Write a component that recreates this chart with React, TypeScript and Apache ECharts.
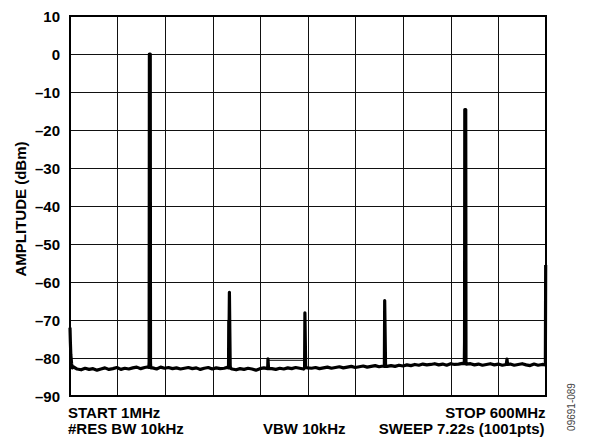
import React, { useEffect, useRef } from "react";
import * as echarts from "echarts";

// Y axis ticks (dBm)
const yTicks = [10, 0, -10, -20, -30, -40, -50, -60, -70, -80, -90];

// Start of sweep: roll-off from DC (MHz, dBm)
const startTrace: [number, number][] = [
  [1, -72], [1.5, -76], [2, -79], [3, -81.5], [4, -82.6],
];

// Noise floor samples, every 5 MHz from 5 MHz to 595 MHz (dBm)
const floorStartMHz = 5;
const floorStepMHz = 5;
const floorLevels = [
  -82.3, -82.9, -83.1, -82.7, -83.0, -82.8, -83.2, -82.9, -82.6, -83.0,
  -82.8, -82.5, -83.0, -82.7, -82.9, -82.6, -82.4, -82.8, -82.5, -82.3,
  -82.6, -82.9, -82.4, -82.7, -82.5, -82.8, -82.6, -82.9, -82.7, -82.5,
  -82.8, -82.6, -83.0, -82.7, -82.5, -82.9, -82.6, -82.8, -82.7, -82.4,
  -82.9, -83.1, -82.8, -83.0, -82.7, -82.9, -83.2, -82.8, -82.6, -82.9,
  -82.8, -83.0, -82.7, -82.9, -82.6, -82.8, -82.5, -82.7, -82.9, -82.6,
  -82.7, -82.5, -82.8, -82.6, -82.4, -82.7, -82.5, -82.3, -82.6, -82.4,
  -82.2, -82.5, -82.3, -82.1, -82.4, -82.2, -82.0, -82.3, -82.1, -82.2,
  -82.0, -82.2, -81.9, -82.1, -81.8, -82.0, -81.7, -81.9, -81.6, -81.8,
  -81.7, -81.5, -81.8, -81.6, -81.9, -81.5, -81.7, -81.6, -81.4, -81.7,
  -81.5, -81.8, -81.6, -81.9, -81.7, -81.5, -81.8, -81.6, -81.9, -81.7,
  -81.6, -81.9, -81.7, -81.5, -81.8, -82.0, -81.6, -81.9, -81.7,
];

// Tones and spurs (MHz, dBm)
const fundamental: [number, number][] = [
  [100.2, -82.5], [100.6, -81.0], [100.9, 0], [102.0, 0], [102.3, -81.3], [102.7, -82.6],
];
const harmonic2: [number, number][] = [
  [200.5, -82.6], [200.8, -70.3], [201.3, -70.0], [201.6, -62.7], [202.3, -62.7], [202.6, -82.0], [203.0, -82.7],
];
const spur250: [number, number][] = [
  [249.8, -82.8], [250.1, -80.2], [250.6, -80.2], [250.9, -82.8],
];
const harmonic3: [number, number][] = [
  [296.2, -82.6], [296.6, -68.1], [297.2, -68.1], [297.6, -82.5],
];
const harmonic4: [number, number][] = [
  [396.6, -82.2], [397.0, -64.9], [397.7, -64.9], [398.1, -82.2],
];
const harmonic5: [number, number][] = [
  [497.2, -81.5], [497.5, -75.7], [497.8, -14.6], [499.0, -14.6], [499.3, -81.4], [499.7, -81.6],
];
const spur551: [number, number][] = [
  [550.6, -81.7], [550.9, -80.3], [551.4, -80.3], [551.7, -81.7],
];
const endTrace: [number, number][] = [
  [599.2, -81.8], [599.6, -55.5], [600, -55.5],
];
// Thin delta-marker line between the 250 MHz spur and the 3rd harmonic
const markerLine: [number, number][] = [
  [250.4, -80.6], [296.9, -80.6],
];

const FONT = "'Liberation Sans', Arial, Helvetica, sans-serif";

function buildTrace(): [number, number][] {
  const pts: [number, number][] = [...startTrace];
  floorLevels.forEach((v, i) => pts.push([floorStartMHz + i * floorStepMHz, v]));
  [fundamental, harmonic2, spur250, harmonic3, harmonic4, harmonic5, spur551, endTrace].forEach((arr) =>
    arr.forEach((p) => pts.push(p))
  );
  pts.sort((a, b) => a[0] - b[0]);
  return pts;
}

export default function App() {
  const ref = useRef<HTMLDivElement>(null);
  useEffect(() => {
    if (!ref.current) return;
    const chart = echarts.init(ref.current, null, { renderer: "svg" });
    const boldText = { fontFamily: FONT, fontWeight: "bold", fontSize: 15, fill: "#000" };
    chart.setOption({
      animation: false,
      backgroundColor: "#fff",
      grid: { left: 70, top: 16, right: 51, bottom: 42, show: false },
      xAxis: [
        {
          type: "value",
          min: 0,
          max: 10,
          interval: 1,
          axisLine: { show: false },
          axisTick: { show: false },
          axisLabel: { show: false },
          splitLine: { show: true, lineStyle: { color: "#111", width: 1 } },
        },
        {
          type: "value",
          min: 1,
          max: 600,
          show: false,
          splitLine: { show: false },
        },
      ],
      yAxis: {
        type: "value",
        min: yTicks[yTicks.length - 1],
        max: yTicks[0],
        interval: 10,
        axisLine: { show: false },
        axisTick: { show: false },
        axisLabel: {
          margin: 10,
          color: "#000",
          fontFamily: FONT,
          fontWeight: "bold",
          fontSize: 15,
          formatter: (v: number) => String(v).replace("-", "\u2013"),
        },
        splitLine: { show: true, lineStyle: { color: "#111", width: 1 } },
      },
      series: [
        {
          type: "line",
          xAxisIndex: 1,
          data: buildTrace(),
          showSymbol: false,
          symbol: "none",
          lineStyle: { color: "#000", width: 3.2, join: "round" },
          silent: true,
        },
        {
          type: "line",
          xAxisIndex: 1,
          data: markerLine,
          showSymbol: false,
          symbol: "none",
          lineStyle: { color: "#000", width: 1 },
          silent: true,
        },
      ],
      graphic: [
        {
          type: "rect",
          shape: { x: 70, y: 16, width: 476, height: 380 },
          style: { fill: "none", stroke: "#000", lineWidth: 2 },
          silent: true,
          z: 10,
        },
        {
          type: "text",
          x: 20,
          y: 209,
          rotation: Math.PI / 2,
          style: { ...boldText, text: "AMPLITUDE (dBm)", align: "center", verticalAlign: "middle" },
        },
        {
          type: "text",
          x: 68,
          y: 412,
          style: { ...boldText, text: "START 1MHz", align: "left", verticalAlign: "middle" },
        },
        {
          type: "text",
          x: 68,
          y: 428.5,
          style: { ...boldText, text: "#RES BW 10kHz", align: "left", verticalAlign: "middle" },
        },
        {
          type: "text",
          x: 263,
          y: 428.5,
          style: { ...boldText, text: "VBW 10kHz", align: "left", verticalAlign: "middle" },
        },
        {
          type: "text",
          x: 545.5,
          y: 412,
          style: { ...boldText, text: "STOP 600MHz", align: "right", verticalAlign: "middle" },
        },
        {
          type: "text",
          x: 544.5,
          y: 428.5,
          style: { ...boldText, text: "SWEEP 7.22s (1001pts)", align: "right", verticalAlign: "middle" },
        },
        {
          type: "text",
          x: 571,
          y: 407,
          rotation: Math.PI / 2,
          style: {
            text: "09691-089",
            fontFamily: FONT,
            fontSize: 10,
            fill: "#444",
            align: "center",
            verticalAlign: "middle",
          },
        },
      ],
    });
    return () => chart.dispose();
  }, []);
  return (
    <div
      ref={ref}
      style={{ position: "absolute", left: 0, top: 0, width: 597, height: 438 }}
    />
  );
}
